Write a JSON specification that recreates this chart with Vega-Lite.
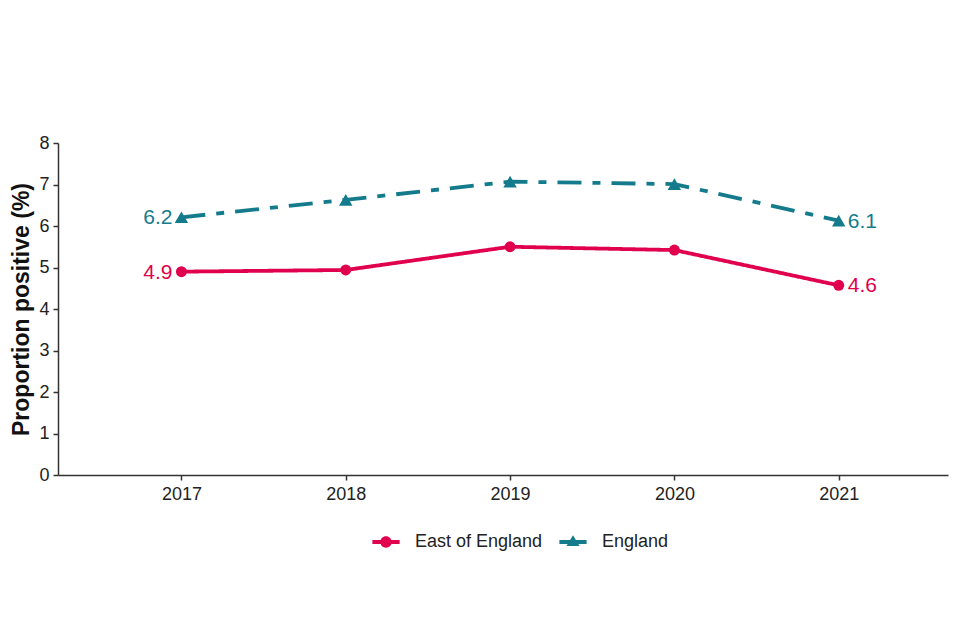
{
  "$schema": "https://vega.github.io/schema/vega-lite/v6.json",
  "width": 890,
  "height": 332,
  "autosize": {"type": "none"},
  "padding": {"left": 58, "top": 143, "right": 12, "bottom": 165},
  "background": "white",
  "config": {"view": {"stroke": null}, "font": "Liberation Sans"},
  "data": {
    "values": [
      {"year": 2017, "area": "East of England", "value": 4.9},
      {"year": 2018, "area": "East of England", "value": 4.94},
      {"year": 2019, "area": "East of England", "value": 5.5},
      {"year": 2020, "area": "East of England", "value": 5.42},
      {"year": 2021, "area": "East of England", "value": 4.57},
      {"year": 2017, "area": "England", "value": 6.21},
      {"year": 2018, "area": "England", "value": 6.63},
      {"year": 2019, "area": "England", "value": 7.07},
      {"year": 2020, "area": "England", "value": 7.01},
      {"year": 2021, "area": "England", "value": 6.13}
    ]
  },
  "encoding": {
    "x": {
      "field": "year",
      "type": "quantitative",
      "scale": {"domain": [2016.249, 2021.665], "nice": false, "zero": false},
      "axis": {
        "values": [2017, 2018, 2019, 2020, 2021],
        "format": "d",
        "title": null,
        "grid": false,
        "labelFontSize": 18,
        "labelColor": "#222222",
        "labelPadding": 5,
        "tickColor": "#333333",
        "tickSize": 5,
        "tickWidth": 1.5,
        "domainColor": "#333333",
        "domainWidth": 1.5
      }
    },
    "y": {
      "field": "value",
      "type": "quantitative",
      "scale": {"domain": [0, 8], "nice": false},
      "axis": {
        "values": [0, 1, 2, 3, 4, 5, 6, 7, 8],
        "title": "Proportion positive (%)",
        "titleFontSize": 23,
        "titleFontWeight": "bold",
        "titleColor": "#111111",
        "titlePadding": 5,
        "grid": false,
        "labelFontSize": 18,
        "labelColor": "#222222",
        "labelPadding": 4,
        "tickColor": "#333333",
        "tickSize": 5,
        "tickWidth": 1.5,
        "domainColor": "#333333",
        "domainWidth": 1.5
      }
    },
    "color": {
      "field": "area",
      "type": "nominal",
      "scale": {"domain": ["East of England", "England"], "range": ["#e0004d", "#147b8c"]},
      "legend": {
        "orient": "none",
        "legendX": 314,
        "legendY": 385,
        "direction": "horizontal",
        "title": null,
        "labelFontSize": 18,
        "labelColor": "#222222",
        "symbolSize": 740,
        "symbolStrokeWidth": 0,
        "symbolOpacity": 1,
        "labelOffset": 15,
        "columnPadding": 16
      }
    }
  },
  "layer": [
    {
      "transform": [{"filter": "datum.year > 3000"}],
      "mark": {"type": "point", "filled": true, "opacity": 1},
      "encoding": {
        "shape": {
          "field": "area",
          "type": "nominal",
          "scale": {
            "domain": ["East of England", "England"],
            "range": [
              "M-1,-0.14H1V0.14H-1Z M-0.42,0A0.42,0.42 0 1,1 0.42,0A0.42,0.42 0 1,1 -0.42,0Z",
              "M-1,-0.14H1V0.14H-1Z M0,-0.5L0.48,0.3H-0.48Z"
            ]
          },
          "legend": null
        }
      }
    },
    {
      "mark": {"type": "line", "strokeWidth": 3.8},
      "encoding": {
        "strokeDash": {
          "field": "area",
          "type": "nominal",
          "scale": {"domain": ["East of England", "England"], "range": [[1, 0], [24, 11, 8, 11]]},
          "legend": null
        }
      }
    },
    {
      "transform": [{"filter": "datum.area === 'East of England'"}],
      "mark": {"type": "point", "filled": true, "opacity": 1, "shape": "circle", "size": 120}
    },
    {
      "transform": [{"filter": "datum.area === 'England'"}],
      "mark": {"type": "point", "filled": true, "opacity": 1, "shape": "triangle-up", "size": 180}
    },
    {
      "transform": [{"filter": "datum.year === 2017"}],
      "mark": {"type": "text", "align": "right", "baseline": "middle", "dx": -9, "dy": 1, "fontSize": 21},
      "encoding": {"text": {"field": "value", "type": "quantitative", "format": ".1f"}}
    },
    {
      "transform": [{"filter": "datum.year === 2021"}],
      "mark": {"type": "text", "align": "left", "baseline": "middle", "dx": 9, "dy": 1, "fontSize": 21},
      "encoding": {"text": {"field": "value", "type": "quantitative", "format": ".1f"}}
    }
  ]
}
